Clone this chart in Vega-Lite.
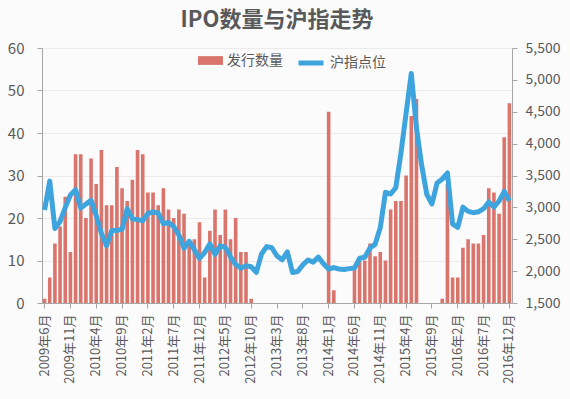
{
  "$schema": "https://vega.github.io/schema/vega-lite/v6.json",
  "width": 470,
  "height": 255,
  "autosize": {"type": "none"},
  "padding": {"left": 42, "top": 48, "right": 58, "bottom": 96},
  "background": "#fbfbfb",
  "title": {"text": "IPO数量与沪指走势", "fontSize": 22, "font": "Noto Sans CJK SC", "fontWeight": "bold", "color": "#595959", "offset": 9, "anchor": "middle"},
  "config": {
    "view": {"stroke": null},
    "font": "Noto Sans CJK SC",
    "axis": {"labelColor": "#595959", "domainColor": "#a6a6a6", "tickColor": "#a6a6a6", "title": null}
  },
  "data": {"values": [
    {"month": "2009年6月", "ipo": 1, "sh": 2959},
    {"month": "2009年7月", "ipo": 6, "sh": 3412},
    {"month": "2009年8月", "ipo": 14, "sh": 2667},
    {"month": "2009年9月", "ipo": 18, "sh": 2779},
    {"month": "2009年10月", "ipo": 25, "sh": 2996},
    {"month": "2009年11月", "ipo": 12, "sh": 3195},
    {"month": "2009年12月", "ipo": 35, "sh": 3277},
    {"month": "2010年1月", "ipo": 35, "sh": 2989},
    {"month": "2010年2月", "ipo": 20, "sh": 3051},
    {"month": "2010年3月", "ipo": 34, "sh": 3110},
    {"month": "2010年4月", "ipo": 28, "sh": 2870},
    {"month": "2010年5月", "ipo": 36, "sh": 2592},
    {"month": "2010年6月", "ipo": 23, "sh": 2398},
    {"month": "2010年7月", "ipo": 23, "sh": 2638},
    {"month": "2010年8月", "ipo": 32, "sh": 2639},
    {"month": "2010年9月", "ipo": 27, "sh": 2656},
    {"month": "2010年10月", "ipo": 24, "sh": 2979},
    {"month": "2010年11月", "ipo": 29, "sh": 2820},
    {"month": "2010年12月", "ipo": 36, "sh": 2808},
    {"month": "2011年1月", "ipo": 35, "sh": 2791},
    {"month": "2011年2月", "ipo": 26, "sh": 2905},
    {"month": "2011年3月", "ipo": 26, "sh": 2928},
    {"month": "2011年4月", "ipo": 23, "sh": 2911},
    {"month": "2011年5月", "ipo": 27, "sh": 2743},
    {"month": "2011年6月", "ipo": 22, "sh": 2762},
    {"month": "2011年7月", "ipo": 20, "sh": 2701},
    {"month": "2011年8月", "ipo": 22, "sh": 2567},
    {"month": "2011年9月", "ipo": 21, "sh": 2359},
    {"month": "2011年10月", "ipo": 14, "sh": 2468},
    {"month": "2011年11月", "ipo": 15, "sh": 2333},
    {"month": "2011年12月", "ipo": 19, "sh": 2199},
    {"month": "2012年1月", "ipo": 6, "sh": 2292},
    {"month": "2012年2月", "ipo": 17, "sh": 2428},
    {"month": "2012年3月", "ipo": 22, "sh": 2263},
    {"month": "2012年4月", "ipo": 16, "sh": 2397},
    {"month": "2012年5月", "ipo": 22, "sh": 2373},
    {"month": "2012年6月", "ipo": 15, "sh": 2225},
    {"month": "2012年7月", "ipo": 20, "sh": 2103},
    {"month": "2012年8月", "ipo": 12, "sh": 2047},
    {"month": "2012年9月", "ipo": 12, "sh": 2086},
    {"month": "2012年10月", "ipo": 1, "sh": 2069},
    {"month": "2012年11月", "ipo": 0, "sh": 1980},
    {"month": "2012年12月", "ipo": 0, "sh": 2269},
    {"month": "2013年1月", "ipo": 0, "sh": 2385},
    {"month": "2013年2月", "ipo": 0, "sh": 2366},
    {"month": "2013年3月", "ipo": 0, "sh": 2237},
    {"month": "2013年4月", "ipo": 0, "sh": 2178},
    {"month": "2013年5月", "ipo": 0, "sh": 2301},
    {"month": "2013年6月", "ipo": 0, "sh": 1979},
    {"month": "2013年7月", "ipo": 0, "sh": 1994},
    {"month": "2013年8月", "ipo": 0, "sh": 2098},
    {"month": "2013年9月", "ipo": 0, "sh": 2175},
    {"month": "2013年10月", "ipo": 0, "sh": 2141},
    {"month": "2013年11月", "ipo": 0, "sh": 2220},
    {"month": "2013年12月", "ipo": 0, "sh": 2116},
    {"month": "2014年1月", "ipo": 45, "sh": 2033},
    {"month": "2014年2月", "ipo": 3, "sh": 2056},
    {"month": "2014年3月", "ipo": 0, "sh": 2033},
    {"month": "2014年4月", "ipo": 0, "sh": 2026},
    {"month": "2014年5月", "ipo": 0, "sh": 2039},
    {"month": "2014年6月", "ipo": 8, "sh": 2048},
    {"month": "2014年7月", "ipo": 10, "sh": 2202},
    {"month": "2014年8月", "ipo": 10, "sh": 2217},
    {"month": "2014年9月", "ipo": 14, "sh": 2364},
    {"month": "2014年10月", "ipo": 11, "sh": 2420},
    {"month": "2014年11月", "ipo": 12, "sh": 2683},
    {"month": "2014年12月", "ipo": 10, "sh": 3235},
    {"month": "2015年1月", "ipo": 22, "sh": 3210},
    {"month": "2015年2月", "ipo": 24, "sh": 3310},
    {"month": "2015年3月", "ipo": 24, "sh": 3850},
    {"month": "2015年4月", "ipo": 30, "sh": 4480},
    {"month": "2015年5月", "ipo": 44, "sh": 5100},
    {"month": "2015年6月", "ipo": 48, "sh": 4250},
    {"month": "2015年7月", "ipo": 0, "sh": 3664},
    {"month": "2015年8月", "ipo": 0, "sh": 3206},
    {"month": "2015年9月", "ipo": 0, "sh": 3053},
    {"month": "2015年10月", "ipo": 0, "sh": 3383},
    {"month": "2015年11月", "ipo": 1, "sh": 3445},
    {"month": "2015年12月", "ipo": 28, "sh": 3539},
    {"month": "2016年1月", "ipo": 6, "sh": 2738},
    {"month": "2016年2月", "ipo": 6, "sh": 2688},
    {"month": "2016年3月", "ipo": 13, "sh": 3004},
    {"month": "2016年4月", "ipo": 15, "sh": 2938},
    {"month": "2016年5月", "ipo": 14, "sh": 2917},
    {"month": "2016年6月", "ipo": 14, "sh": 2930},
    {"month": "2016年7月", "ipo": 16, "sh": 2979},
    {"month": "2016年8月", "ipo": 27, "sh": 3085},
    {"month": "2016年9月", "ipo": 26, "sh": 3005},
    {"month": "2016年10月", "ipo": 21, "sh": 3100},
    {"month": "2016年11月", "ipo": 39, "sh": 3250},
    {"month": "2016年12月", "ipo": 47, "sh": 3104}
  ]},
  "encoding": {
    "x": {
      "field": "month", "type": "ordinal", "sort": null,
      "scale": {"paddingInner": 0.3, "paddingOuter": 0.15},
      "axis": {
        "values": ["2009年6月", "2009年11月", "2010年4月", "2010年9月", "2011年2月", "2011年7月", "2011年12月", "2012年5月", "2012年10月", "2013年3月", "2013年8月", "2014年1月", "2014年6月", "2014年11月", "2015年4月", "2015年9月", "2016年2月", "2016年7月", "2016年12月"],
        "labelAngle": -90, "labelFontSize": 13, "labelPadding": 6, "tickSize": 5, "grid": false
      }
    }
  },
  "layer": [
    {
      "mark": {"type": "bar"},
      "encoding": {
        "y": {"field": "ipo", "type": "quantitative", "scale": {"domain": [0, 60]},
          "axis": {"values": [0, 10, 20, 30, 40, 50, 60], "labelFontSize": 15, "labelPadding": 13, "tickSize": 5, "grid": true, "gridColor": "#ebebeb"}},
        "fill": {"datum": "发行数量", "scale": {"range": ["#da756d"]},
          "legend": {"title": null, "orient": "none", "legendX": 156, "legendY": 0, "symbolType": "M-1,-0.35L1,-0.35L1,0.35L-1,0.35Z", "symbolSize": 625, "labelFontSize": 14, "labelColor": "#595959", "symbolStrokeWidth": 0}}
      }
    },
    {
      "mark": {"type": "line", "strokeWidth": 5, "strokeJoin": "round"},
      "encoding": {
        "y": {"field": "sh", "type": "quantitative", "scale": {"domain": [1500, 5500]},
          "axis": {"orient": "right", "values": [1500, 2000, 2500, 3000, 3500, 4000, 4500, 5000, 5500], "format": ",.0f", "labelFontSize": 14, "labelPadding": 8, "tickSize": 5, "grid": false}},
        "stroke": {"datum": "沪指点位", "scale": {"range": ["#3ea4dd"]},
          "legend": {"title": null, "orient": "none", "legendX": 254, "legendY": 0, "symbolType": "stroke", "symbolSize": 625, "symbolStrokeWidth": 5, "labelFontSize": 14, "labelColor": "#595959"}}
      }
    }
  ],
  "resolve": {"scale": {"y": "independent"}}
}
